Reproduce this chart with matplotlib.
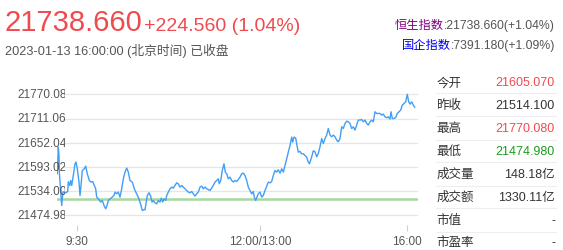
import matplotlib
matplotlib.use("Agg")
import matplotlib.pyplot as plt
from matplotlib.transforms import Bbox

plt.rcParams['font.family'] = ['Liberation Sans', 'Noto Sans CJK SC', 'DejaVu Sans']

# ---------------- data ----------------
last_price = "21738.660"
change_text = "+224.560 (1.04%)"
timestamp = "2023-01-13 16:00:00 (北京时间) 已收盘"
hsi_label, hsi_value = "恒生指数", ":21738.660(+1.04%)"
hscei_label, hscei_value = "国企指数", ":7391.180(+1.09%)"

prev_close = 21514.10
y_ticks = [21474.98, 21534.00, 21593.02, 21652.04, 21711.06, 21770.08]
x_tick_pos = [19.7, 203.0, 350.3]
x_tick_labels = ["9:30", "12:00/13:00", "16:00"]

stat_labels = ["今开", "昨收", "最高", "最低", "成交量", "成交额", "市值", "市盈率"]
stat_values = ["21605.070", "21514.100", "21770.080", "21474.980", "148.18亿", "1330.11亿", "-", "-"]
stat_colors = ["#f04a4f", "#333333", "#f04a4f", "#1e9a1e", "#333333", "#333333", "#333333", "#333333"]

# time slots along the session (chart units) and index level
t_slots = [0.3, 1.3, 2.0, 2.3, 4.7, 6.0, 8.7, 10.7, 11.3, 12.7, 13.7, 14.7, 16.3, 18.0, 19.0, 20.3,
           22.0, 23.0, 24.0, 25.3, 27.3, 28.7, 30.3, 32.3, 34.0, 35.7, 37.3, 38.7, 39.7, 41.3,
           43.7, 45.3, 47.0, 48.7, 50.0, 51.3, 53.0, 55.3, 57.0, 58.0, 59.7, 61.3, 63.0, 64.7,
           66.3, 68.0, 69.7, 71.3, 73.0, 75.3, 77.3, 79.7, 82.0, 84.0, 85.3, 87.3, 88.0, 89.0,
           90.3, 92.0, 93.7, 95.0, 96.3, 98.0, 99.7, 101.3, 103.0, 104.3, 105.7, 107.0, 108.7,
           109.7, 111.3, 113.0, 114.7, 116.3, 118.0, 119.7, 121.3, 123.0, 124.7, 126.3, 128.0,
           129.7, 131.3, 133.0, 134.7, 136.3, 138.0, 139.7, 141.3, 143.0, 144.7, 146.3, 148.0,
           149.7, 151.3, 153.0, 154.7, 156.3, 158.0, 159.7, 161.3, 162.3, 163.7, 165.3, 167.0,
           168.3, 169.7, 171.3, 173.0, 174.7, 176.3, 178.0, 179.7, 181.3, 183.0, 184.7, 186.3,
           188.0, 189.7, 191.3, 193.0, 194.7, 196.3, 197.3, 198.7, 200.3, 201.3, 203.0, 204.7,
           206.3, 208.0, 209.7, 211.3, 213.0, 214.7, 216.3, 218.0, 219.7, 221.3, 223.0, 224.7,
           226.3, 228.0, 229.7, 231.3, 233.0, 234.7, 235.7, 237.0, 238.7, 240.0, 241.3, 243.0,
           244.7, 246.3, 248.0, 249.7, 251.3, 252.5, 254.7, 256.3, 258.0, 259.7, 261.3, 263.0,
           264.7, 266.3, 268.0, 269.7, 271.3, 273.0, 274.7, 276.3, 278.0, 279.7, 281.3, 283.0,
           284.7, 286.3, 288.0, 289.7, 291.3, 293.0, 294.7, 296.3, 298.0, 299.7, 301.3, 303.0,
           304.7, 306.3, 308.0, 309.7, 311.3, 313.0, 314.7, 316.3, 318.0, 319.7, 321.3, 323.0,
           324.7, 326.3, 328.0, 329.7, 331.3, 333.0, 334.0, 335.3, 337.0, 338.7, 340.3, 342.0,
           343.7, 345.3, 347.0, 348.7, 350.3, 351.7, 353.0, 354.7, 356.3, 357.7]
levels = [21576.2, 21641.3, 21620.8, 21581.1, 21498.9, 21532.3, 21529.9, 21533.0, 21556.7, 21547.7,
          21559.9, 21547.7, 21572.0, 21600.6, 21604.7, 21588.4, 21556.0, 21523.3, 21547.7, 21584.2,
          21588.4, 21595.0, 21576.2, 21559.9, 21556.0, 21557.4, 21547.7, 21539.6, 21519.4, 21515.2,
          21507.2, 21511.1, 21498.9, 21490.8, 21498.9, 21511.1, 21515.2, 21519.4, 21523.3, 21531.6,
          21527.4, 21531.6, 21519.4, 21539.6, 21564.0, 21580.3, 21590.1, 21580.3, 21559.9, 21556.0,
          21539.6, 21527.4, 21515.2, 21498.9, 21486.7, 21489.1, 21488.4, 21503.0, 21523.3, 21529.9,
          21521.8, 21507.2, 21511.1, 21505.5, 21503.0, 21511.1, 21507.2, 21516.9, 21507.2, 21515.2,
          21511.1, 21523.3, 21531.6, 21539.6, 21543.8, 21541.3, 21547.7, 21554.2, 21551.8, 21543.8,
          21547.7, 21543.8, 21539.6, 21535.5, 21531.6, 21529.9, 21533.0, 21527.4, 21521.8, 21527.4,
          21531.6, 21543.8, 21546.2, 21539.6, 21543.8, 21539.6, 21537.9, 21535.5, 21541.3, 21547.7,
          21556.0, 21559.9, 21564.0, 21551.8, 21559.9, 21584.2, 21600.6, 21580.3, 21576.2, 21564.0,
          21568.1, 21559.9, 21556.0, 21559.9, 21557.4, 21562.3, 21568.1, 21576.2, 21577.9, 21572.0,
          21559.9, 21543.8, 21535.5, 21527.4, 21533.0, 21519.4, 21511.1, 21521.8, 21527.4, 21531.6,
          21519.4, 21523.3, 21535.5, 21546.2, 21556.0, 21554.2, 21557.4, 21572.0, 21584.2, 21580.3,
          21586.0, 21577.9, 21588.4, 21580.3, 21596.4, 21612.8, 21629.1, 21645.2, 21665.7, 21653.5,
          21665.7, 21663.3, 21645.2, 21629.1, 21630.6, 21625.0, 21625.0, 21620.8, 21616.9, 21604.7,
          21600.6, 21617.7, 21632.3, 21629.9, 21617.7, 21625.7, 21642.0, 21662.3, 21650.1, 21662.3,
          21670.6, 21686.7, 21670.6, 21666.4, 21670.6, 21666.4, 21658.4, 21654.2, 21662.3, 21690.8,
          21686.7, 21698.9, 21704.7, 21703.0, 21698.9, 21686.7, 21690.8, 21682.8, 21695.0, 21707.2,
          21707.2, 21708.6, 21703.0, 21707.2, 21698.9, 21695.0, 21703.0, 21707.2, 21703.0, 21727.4,
          21723.3, 21723.3, 21723.3, 21719.4, 21721.8, 21715.2, 21712.8, 21715.2, 21709.6, 21727.4,
          21711.1, 21711.1, 21713.5, 21723.3, 21727.4, 21731.6, 21743.8, 21747.7, 21751.8, 21770.08,
          21751.8, 21746.2, 21751.8, 21743.8, 21738.66]

# ---------------- figure ----------------
W, H = 563, 251
fig = plt.figure(figsize=(W / 100, H / 100), dpi=100)
fig.patch.set_facecolor("white")

def fx(px):
    return px / W

def fy(py):
    return 1 - py / H

RED = "#f04a4f"
TXT = "#333333"
GRAY = "#555555"

# header
fig.text(fx(4), fy(30.7), last_price, color=RED, fontsize=21, va="baseline", ha="left")
fig.text(fx(144), fy(30.7), change_text, color=RED, fontsize=14, va="baseline", ha="left")
fig.text(fx(5), fy(55.5), timestamp, color=GRAY, fontsize=9.2, va="baseline", ha="left")

# right header (index quotes)
t1 = fig.text(fx(555), fy(29.3), hsi_value, color=GRAY, fontsize=8.8, va="baseline", ha="right")
fig.canvas.draw()
r = fig.canvas.get_renderer()
bb = t1.get_window_extent(r)
fig.text(bb.x0 / W, fy(29.3), hsi_label, color="#800080", fontsize=8.8, va="baseline", ha="right")
t2 = fig.text(fx(555), fy(49.3), hscei_value, color=GRAY, fontsize=8.8, va="baseline", ha="right")
bb2 = t2.get_window_extent(r)
fig.text(bb2.x0 / W, fy(49.3), hscei_label, color="#0000ee", fontsize=8.8, va="baseline", ha="right")

# stats table
row_y = [83.3, 106.0, 129.0, 151.7, 175.0, 197.7, 220.7, 243.3]
sep_y = [94.0, 117.3, 140.7, 163.3, 186.7, 209.3, 232.7]
for lab, val, col, yy in zip(stat_labels, stat_values, stat_colors, row_y):
    fig.text(fx(436.5), fy(yy), lab, color=TXT, fontsize=9, va="center", ha="left")
    fig.text(fx(555), fy(yy), val, color=col, fontsize=9, va="center", ha="right")
for yy in sep_y:
    fig.add_artist(plt.Line2D([fx(436), fx(556)], [fy(yy), fy(yy)], color="#eeeeee", lw=0.8))

# ---------------- chart ----------------
ax_left, ax_right, ax_top, ax_bot = 57, 418, 88, 226
ax = fig.add_axes([fx(ax_left), fy(ax_bot), fx(ax_right - ax_left), (ax_bot - ax_top) / H])
ax.set_facecolor("none")
ax.set_xlim(0, ax_right - ax_left)
px_per_val = (216.3 - 95.3) / (y_ticks[-1] - y_ticks[0])
ax.set_ylim(y_ticks[0] - (ax_bot - 216.3) / px_per_val, y_ticks[-1] + (95.3 - ax_top) / px_per_val)
for s in ax.spines.values():
    s.set_visible(False)

ax.hlines(y_ticks, 6, ax_right - ax_left, color="#e6e6e6", lw=0.9, zorder=1)
ax.axhline(prev_close, color="#a8d8a0", lw=1.8, zorder=2)
ax.plot(t_slots, levels, color="#429ef6", lw=1.0, zorder=3, solid_joinstyle="round")

ax.set_yticks([])
ax.set_xticks(x_tick_pos)
ax.set_xticklabels(x_tick_labels, fontsize=8.5, color=GRAY)
ax.tick_params(axis="x", length=4, width=0.8, color="#d0d0d0", pad=3.5)

# y labels, clipped at the plot edge like the reference
clip = Bbox.from_extents(0, 0, 65, H)
for v in y_ticks:
    t = ax.text(-40, v, f"{v:.3f}", fontsize=8.5, color=GRAY, va="center", ha="left",
                transform=ax.transData, clip_on=False)
    t.set_clip_box(clip)
    t.set_clip_on(True)

fig.savefig("out.png", dpi=100, facecolor="white")
